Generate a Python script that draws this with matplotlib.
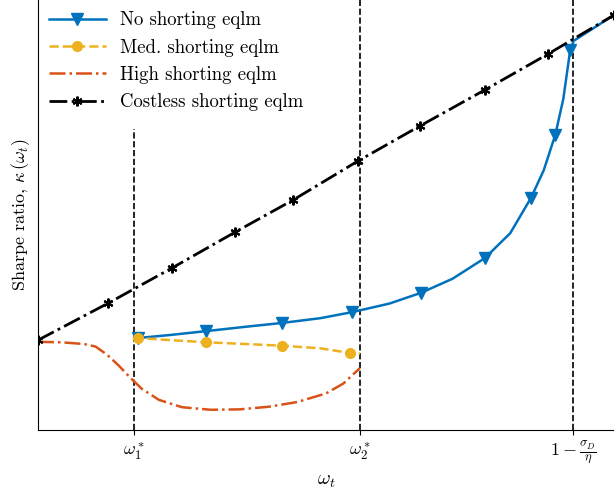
import matplotlib
matplotlib.use("Agg")
import matplotlib.pyplot as plt
from matplotlib.lines import Line2D

plt.rcParams['font.family'] = 'serif'
plt.rcParams['font.serif'] = ['cmr10', 'DejaVu Serif']
plt.rcParams['mathtext.fontset'] = 'cm'
plt.rcParams['axes.formatter.use_mathtext'] = True

costless_x = [0.0, 0.122, 0.233, 0.342, 0.443, 0.556, 0.663, 0.776, 0.885, 1.0]
costless_y = [0.209, 0.295, 0.377, 0.460, 0.535, 0.626, 0.707, 0.791, 0.874, 0.965]

noshort_x = [0.167, 0.174, 0.23, 0.292, 0.36, 0.424, 0.49, 0.545, 0.61, 0.665, 0.72, 0.776, 0.82, 0.856,
             0.878, 0.898, 0.912, 0.924, 0.93, 1.0]
noshort_y = [0.214, 0.214, 0.221, 0.230, 0.240, 0.249, 0.260, 0.274, 0.294, 0.319, 0.352, 0.400, 0.458, 0.540,
             0.604, 0.686, 0.770, 0.884, 0.905, 0.965]
noshort_marks = [1, 3, 5, 7, 9, 11, 13, 15, 17]

med_x = [0.167, 0.174, 0.23, 0.292, 0.36, 0.424, 0.49, 0.542, 0.559]
med_y = [0.214, 0.214, 0.209, 0.204, 0.200, 0.196, 0.190, 0.179, 0.178]
med_marks = [1, 3, 5, 7]

high_x = [0.0, 0.04, 0.08, 0.10, 0.12, 0.14, 0.16, 0.18, 0.21, 0.25, 0.30, 0.35, 0.40, 0.45, 0.50, 0.53, 0.559]
high_y = [0.205, 0.204, 0.200, 0.194, 0.175, 0.150, 0.122, 0.096, 0.070, 0.053, 0.047, 0.048, 0.054, 0.065, 0.085, 0.108, 0.144]

omega_x = [0.167, 0.559, 0.929]
omega_labels = [r'$\omega_1^*$', r'$\omega_2^*$', r'$1-\frac{\sigma_D}{\eta}$']

fig = plt.figure(figsize=(6.14, 5.0), dpi=100)
ax = fig.add_axes([38/614, 70/500, 1 - 38/614, 430/500])
ax.set_xlim(0, 1)
ax.set_ylim(0, 1)

ax.plot(costless_x, costless_y, color='black', ls='-.', lw=2, marker=(6, 2, 0), ms=7, mew=1.5, zorder=4)
ax.plot(noshort_x, noshort_y, color='#0072BD', lw=1.8, marker='v', ms=8, markevery=noshort_marks, zorder=3)
ax.plot(med_x, med_y, color='#EDB120', lw=1.8, ls='--', marker='o', ms=7, markevery=med_marks, zorder=3)
ax.plot(high_x, high_y, color='#D95319', lw=1.8, ls='-.', zorder=3)

ax.plot([omega_x[0]] * 2, [0, 0.70], 'k--', lw=1.2)
ax.plot([omega_x[1]] * 2, [0, 1], 'k--', lw=1.2)
ax.plot([omega_x[2]] * 2, [0, 1], 'k--', lw=1.2)

handles = [
    Line2D([], [], color='#0072BD', lw=1.8, marker='v', ms=8),
    Line2D([], [], color='#EDB120', lw=1.8, ls='--', marker='o', ms=7),
    Line2D([], [], color='#D95319', lw=1.8, ls='-.'),
    Line2D([], [], color='black', lw=2, ls='-.', marker=(6, 2, 0), ms=7, mew=1.5),
]
labels = ['No shorting eqlm', 'Med. shorting eqlm', 'High shorting eqlm', 'Costless shorting eqlm']
ax.legend(handles, labels, loc='upper left', frameon=False, fontsize=13.5, handlelength=3,
          borderaxespad=0.2)

ax.set_xticks(omega_x)
ax.set_xticklabels(omega_labels, fontsize=13)
ax.set_yticks([])
ax.set_xlabel(r'$\omega_t$', fontsize=14)
ax.set_ylabel(r'Sharpe ratio, $\kappa\,(\omega_t)$', fontsize=13)
ax.spines['top'].set_visible(False)
ax.spines['right'].set_visible(False)

fig.savefig('out.png', dpi=100)
